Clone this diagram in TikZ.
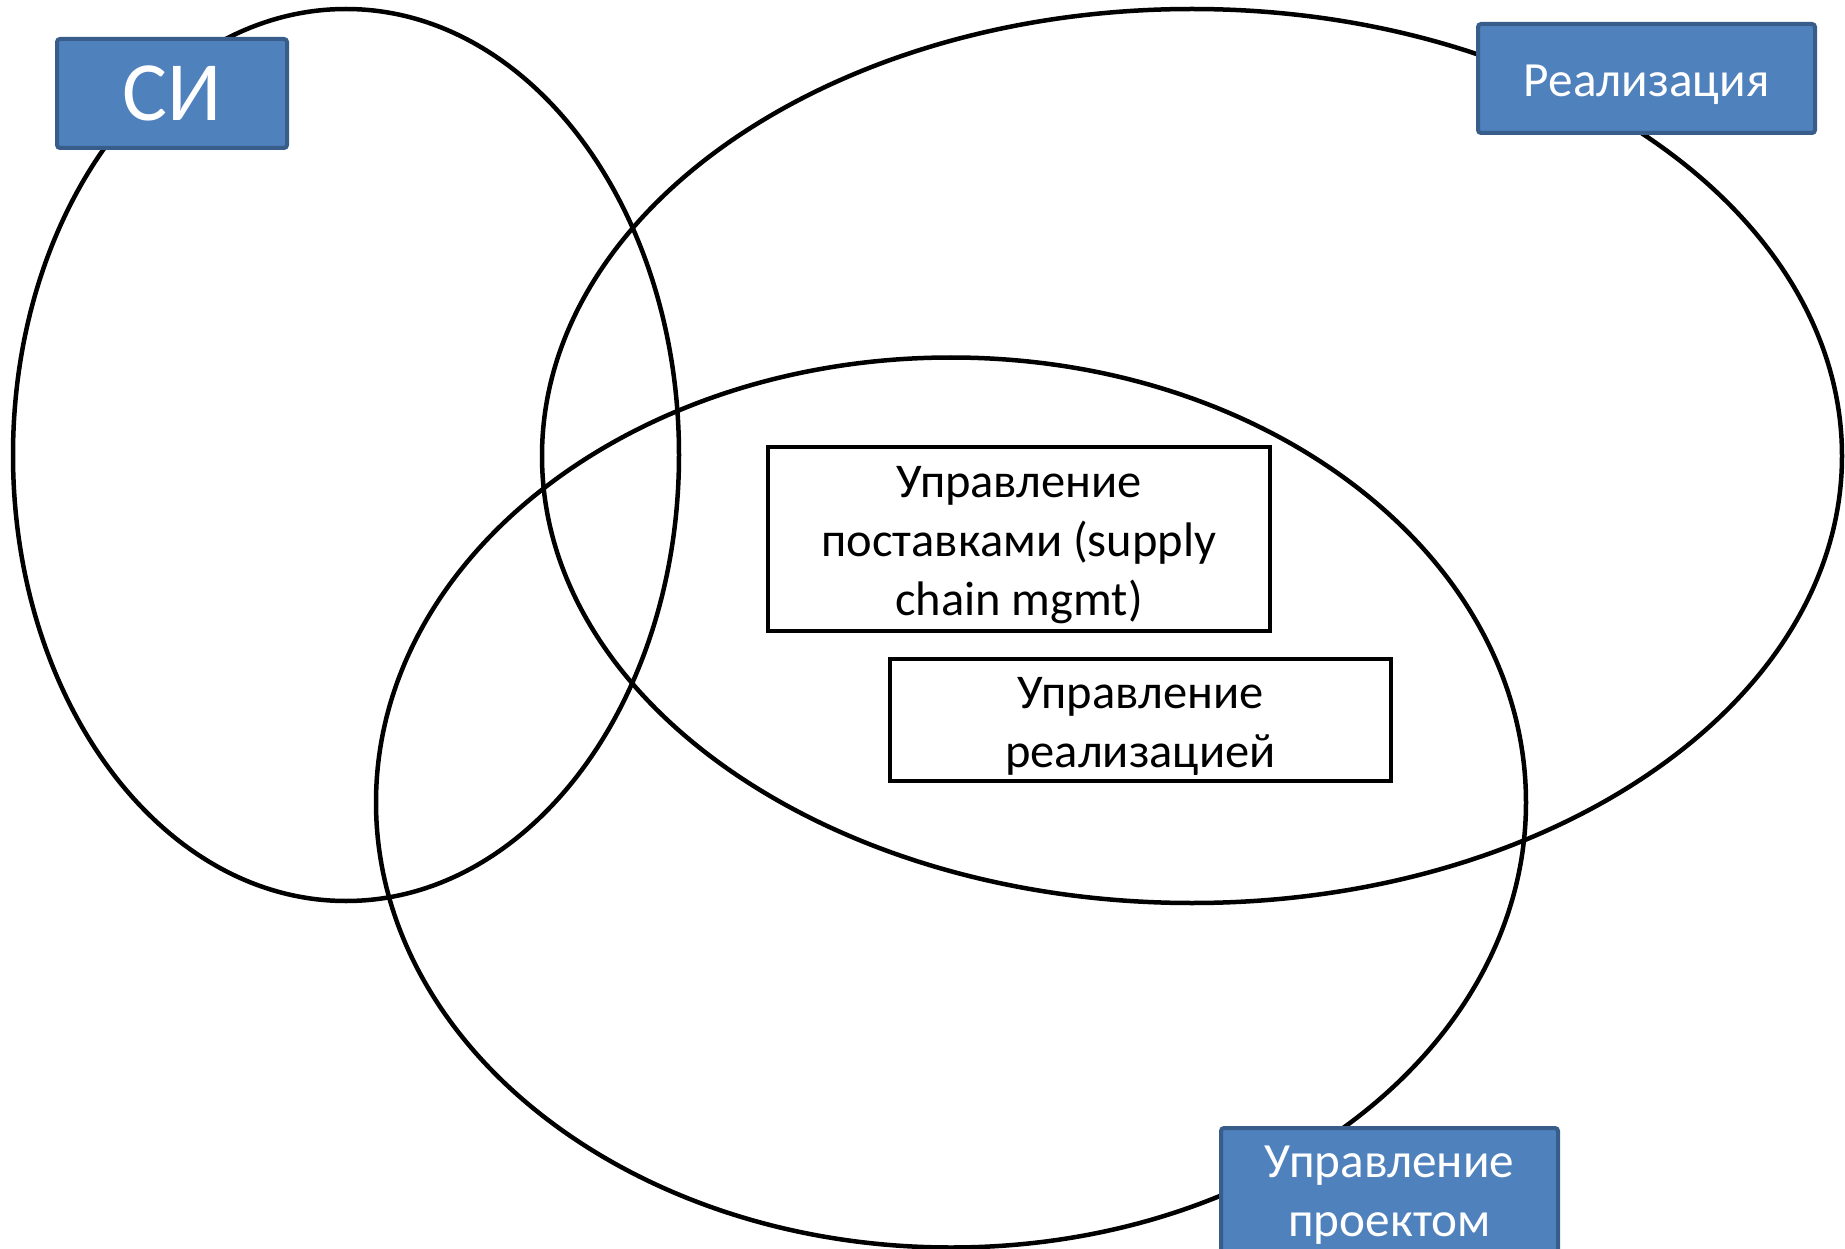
\documentclass[tikz,border=0pt]{standalone}
\usepackage{fontspec}
\setmainfont{Carlito}
\usetikzlibrary{positioning}

\definecolor{tagfill}{HTML}{4F81BD}
\definecolor{tagline}{HTML}{385D8A}

\tikzset{
	circ/.style={line width=0.45mm},
	tag/.style={draw=tagline,fill=tagfill,line width=0.4mm,rounded corners=0.3mm,inner sep=0pt},
	tagtext/.style={text=white,align=center,inner sep=0pt,font=\fontsize{14}{16.8}\selectfont},
	memo/.style={draw,fill=white,line width=0.4mm,inner sep=0pt},
	memotext/.style={align=center,inner sep=0pt,font=\fontsize{13.8}{16.8}\selectfont},
}

\begin{document}
\begin{tikzpicture}[x=0.1mm,y=-0.1mm]
\useasboundingbox (0,0) rectangle (1845,1249);

% the three sets
\foreach \cx/\cy/\rx/\ry in {346/455/333/446, 1192/456/650/447, 951/802.5/575/445}{
	\draw[circ] (\cx,\cy) ellipse[x radius=\rx, y radius=\ry];
}

% blue labels of the sets
\node[tag,minimum width=23mm,minimum height=10.9mm] (si) at (172,93.5) {};
\node[tagtext,font=\fontsize{24}{28}\selectfont] (si text) at (si.center) {СИ};
\node[tag,minimum width=33.7mm,minimum height=10.9mm] (real) at (1646.5,78.5) {};
\node[tagtext] (real text) at ([yshift=-0.6mm]real.center) {Реализация};
\node[tag,minimum width=33.7mm,minimum height=12.8mm] (proj) at (1389.5,1192) {};
\node[tagtext] (proj text) at ([yshift=-0.3mm]proj.center) {Управление\\проектом};

% the two fields in the middle
\node[memo,minimum width=50.2mm,minimum height=18.4mm] (supply) at (1019,539) {};
\node[memotext] (supply text) at ([yshift=-0.6mm]supply.center)
	{Управление\\поставками (supply\\chain mgmt)};
\node[memo,minimum width=50.1mm,minimum height=12.2mm] (realmgmt) at (1140.5,720) {};
\node[memotext] (realmgmt text) at ([yshift=-0.6mm]realmgmt.center)
	{Управление\\реализацией};

\end{tikzpicture}
\end{document}
